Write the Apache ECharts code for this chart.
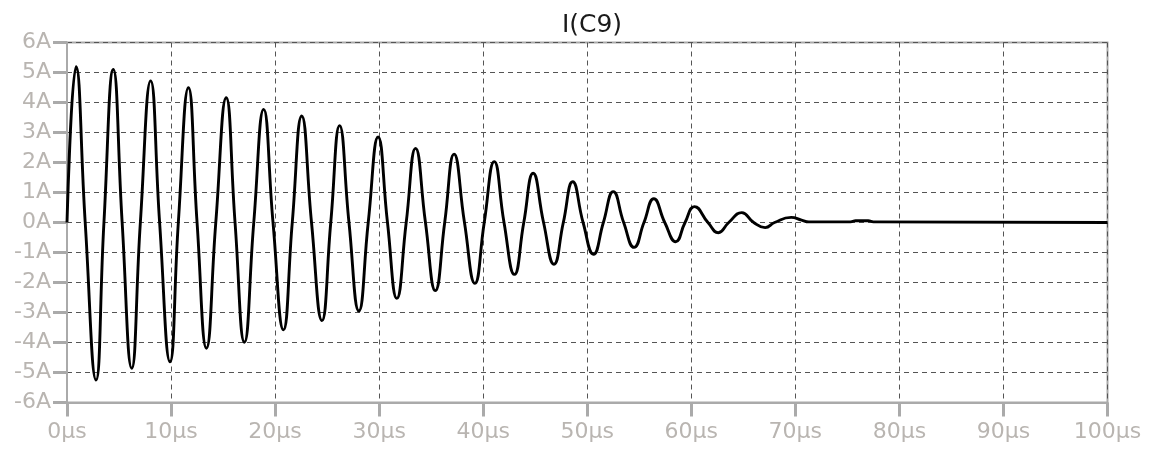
<!DOCTYPE html>
<html>
<head>
<meta charset="utf-8">
<script src="https://cdn.jsdelivr.net/npm/echarts@6/dist/echarts.min.js"></script>
<style>
html,body{margin:0;padding:0;background:#fff;}
#chart{width:1152px;height:451px;}
</style>
</head>
<body>
<div id="chart"></div>
<script>
// Trace title
const traceName = "I(C9)";
// Time samples (µs): extrema and zero crossings
const timeUs = [
  0,
  0.87, 1.75, 2.79, 3.55,
  4.45, 5.3, 6.22, 7.05,
  8.04, 8.9, 9.9, 10.7,
  11.67, 12.5, 13.4, 14.3,
  15.3, 16.15, 17.05, 17.95,
  18.9, 19.8, 20.8, 21.65,
  22.56, 23.5, 24.5, 25.35,
  26.2, 27.1, 28.05, 28.95,
  29.9, 30.8, 31.7, 32.6,
  33.5, 34.45, 35.4, 36.3,
  37.2, 38.2, 39.2, 40.1,
  41.06, 42.0, 43.0, 43.9,
  44.8, 45.8, 46.8, 47.7,
  48.6, 49.6, 50.6, 51.55,
  52.5, 53.5, 54.5, 55.45,
  56.4, 57.45, 58.5, 59.4,
  60.3, 61.6, 62.6, 63.6,
  64.85, 66.0, 67.1, 68.0,
  69.6, 70.6, 71.3, 75.3, 75.8, 77.0, 77.5, 100
];
// Current (A) at those samples
const currentA = [
  0,
  5.19, 0, -5.25, 0,
  5.10, 0, -4.86, 0,
  4.72, 0, -4.64, 0,
  4.49, 0, -4.19, 0,
  4.16, 0, -3.99, 0,
  3.77, 0, -3.58, 0,
  3.55, 0, -3.27, 0,
  3.23, 0, -2.95, 0,
  2.85, 0, -2.53, 0,
  2.47, 0, -2.27, 0,
  2.28, 0, -2.03, 0,
  2.03, 0, -1.73, 0,
  1.64, 0, -1.39, 0,
  1.36, 0, -1.06, 0,
  1.03, 0, -0.83, 0,
  0.79, 0, -0.64, 0,
  0.53, 0, -0.34, 0,
  0.33, 0, -0.17, 0,
  0.17, 0.08, 0.02, 0.02, 0.06, 0.06, 0.02, 0.0
];
// Axis tick values
const xTicks = [0, 10, 20, 30, 40, 50, 60, 70, 80, 90, 100];
const yTicks = [-6, -5, -4, -3, -2, -1, 0, 1, 2, 3, 4, 5, 6];

const points = timeUs.map((t, i) => [t, currentA[i]]);
const labelColor = '#b9b5b1';
const axisGray = '#aaaaaa';
const gridDash = {color: '#555555', width: 1, type: [5, 4]};

const chart = echarts.init(document.getElementById('chart'), null, {renderer: 'canvas'});
chart.setOption({
  animation: false,
  backgroundColor: '#ffffff',
  title: {
    text: traceName,
    left: 587, textAlign: 'center', top: 8,
    textStyle: {fontFamily: 'DejaVu Sans', fontSize: 25, fontWeight: 'normal', color: '#1a1a1a'}
  },
  grid: {
    left: 67, right: 44.5, top: 42.5, bottom: 48.5,
    show: true, borderColor: axisGray, borderWidth: 2, backgroundColor: 'transparent'
  },
  xAxis: {
    type: 'value', min: xTicks[0], max: xTicks[xTicks.length - 1], interval: 10,
    axisLine: {show: true, onZero: false, lineStyle: {color: axisGray, width: 2}},
    axisTick: {show: true, length: 14, lineStyle: {color: axisGray, width: 3}},
    axisLabel: {margin: 19, color: labelColor, fontFamily: 'DejaVu Sans', fontSize: 22,
      formatter: v => v + 'µs'},
    splitLine: {show: true, lineStyle: gridDash}
  },
  yAxis: {
    type: 'value', min: yTicks[0], max: yTicks[yTicks.length - 1], interval: 1,
    axisLine: {show: true, onZero: false, lineStyle: {color: axisGray, width: 2}},
    axisTick: {show: true, length: 14, lineStyle: {color: axisGray, width: 3}},
    axisLabel: {margin: 16, color: labelColor, fontFamily: 'DejaVu Sans', fontSize: 22,
      formatter: v => v + 'A'},
    splitLine: {show: true, lineStyle: gridDash}
  },
  series: [{
    type: 'line', data: points, smooth: 0.5, showSymbol: false,
    lineStyle: {color: '#000000', width: 2.9}, z: 5
  }]
});
</script>
</body>
</html>
